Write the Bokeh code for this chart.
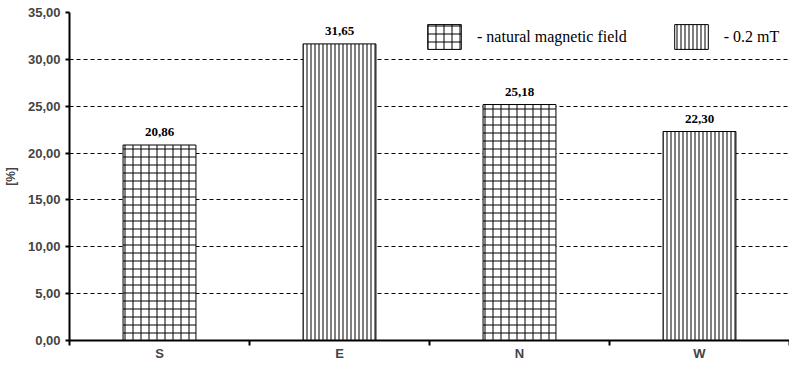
from bokeh.plotting import figure
from bokeh.models import (ColumnDataSource, FixedTicker, Range1d, LabelSet,
                          Legend, LegendItem)
from bokeh.embed import file_html
from bokeh.resources import INLINE

# ---- data ----
categories = ["S", "E", "N", "W"]
values = [20.86, 31.65, 25.18, 22.30]
treatment = ["natural", "0.2 mT", "natural", "0.2 mT"]
series_labels = {"natural": "- natural magnetic field", "0.2 mT": "- 0.2 mT"}
y_ticks = [0, 5, 10, 15, 20, 25, 30, 35]

def fmt(v):
    return f"{v:.2f}".replace(".", ",")

xs = [i + 0.5 for i in range(len(categories))]
labels = [fmt(v) for v in values]

src_all = ColumnDataSource(dict(x=xs, top=values, label=labels))
src_nat = ColumnDataSource(dict(
    x=[x for x, t in zip(xs, treatment) if t == "natural"],
    top=[v for v, t in zip(values, treatment) if t == "natural"]))
src_mt = ColumnDataSource(dict(
    x=[x for x, t in zip(xs, treatment) if t == "0.2 mT"],
    top=[v for v, t in zip(values, treatment) if t == "0.2 mT"]))

p = figure(width=789, height=363, output_backend="svg", toolbar_location=None,
           x_range=Range1d(0, len(categories)), y_range=Range1d(0, 35),
           min_border_left=69, min_border_right=0, min_border_top=12,
           min_border_bottom=21)
p.outline_line_color = None
p.background_fill_color = "white"
p.border_fill_color = "white"

FONT = "Liberation Sans"

# grid
p.xgrid.grid_line_color = None
p.ygrid.grid_line_color = "black"
p.ygrid.grid_line_dash = "4 3"
p.ygrid.grid_line_width = 1
p.ygrid.ticker = FixedTicker(ticks=y_ticks)

# bars
r_nat = p.vbar(x="x", top="top", width=0.405, bottom=0, source=src_nat,
               fill_color="white", line_color="black", line_width=1,
               hatch_pattern="+", hatch_scale=8, hatch_color="black",
               hatch_weight=1)
r_mt = p.vbar(x="x", top="top", width=0.405, bottom=0, source=src_mt,
              fill_color="white", line_color="black", line_width=1,
              hatch_pattern="|", hatch_scale=4, hatch_color="black",
              hatch_weight=1)

# value labels
lbls = LabelSet(x="x", y="top", text="label", source=src_all,
                text_align="center", text_baseline="bottom", y_offset=9,
                text_font=FONT, text_font_style="bold",
                text_font_size="13px", text_color="black")
p.add_layout(lbls)

# y axis
ya = p.yaxis[0]
ya.ticker = FixedTicker(ticks=y_ticks)
ya.major_label_overrides = {t: fmt(t) for t in y_ticks}
ya.major_label_text_font = FONT
ya.major_label_text_font_style = "bold"
ya.major_label_text_font_size = "13px"
ya.major_label_standoff = 5
ya.major_tick_out = 4
ya.major_tick_in = 0
ya.major_tick_line_width = 2
ya.minor_tick_line_color = None
ya.axis_line_width = 2
ya.axis_label = "[%]"
ya.axis_label_text_font = FONT
ya.axis_label_text_font_style = "bold"
ya.axis_label_text_font_size = "12px"
ya.axis_label_standoff = 7

# x axis
xa = p.xaxis[0]
xa.ticker = FixedTicker(ticks=xs, minor_ticks=list(range(len(categories) + 1)))
xa.major_label_overrides = {x: c for x, c in zip(xs, categories)}
xa.major_label_text_font = FONT
xa.major_label_text_font_style = "bold"
xa.major_label_text_font_size = "13px"
xa.major_tick_line_color = None
xa.major_tick_out = 0
xa.major_tick_in = 0
xa.major_label_standoff = 0
xa.minor_tick_out = 5
xa.minor_tick_in = 0
xa.minor_tick_line_width = 2
xa.minor_tick_line_color = "black"
xa.axis_line_width = 2

# legend
legend = Legend(items=[
    LegendItem(label=series_labels["natural"], renderers=[r_nat]),
    LegendItem(label=series_labels["0.2 mT"], renderers=[r_mt]),
], orientation="horizontal", location=(354, 288))
legend.glyph_width = 42
legend.glyph_height = 31
legend.label_standoff = 12
legend.spacing = 43
legend.padding = 0
legend.margin = 0
legend.border_line_color = None
legend.background_fill_alpha = 0
legend.label_text_font = "Liberation Serif"
legend.label_text_font_size = "16px"
legend.label_text_color = "black"
p.add_layout(legend, "center")

open("out.html", "w").write(file_html(p, INLINE))
